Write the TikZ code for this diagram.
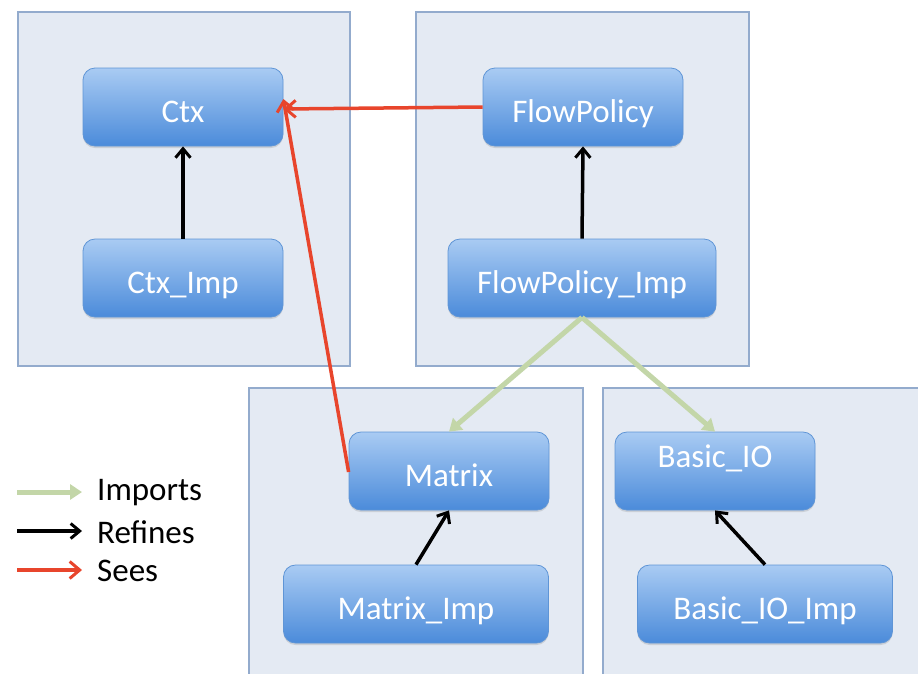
\documentclass[tikz,border=0pt]{standalone}
\usepackage{fontspec}
\setmainfont{Carlito}
\usetikzlibrary{arrows.meta,shadows}
\definecolor{pkgfill}{HTML}{E4EAF3}
\definecolor{pkgline}{HTML}{93ABCD}
\definecolor{modtop}{HTML}{A9CBF3}
\definecolor{modbot}{HTML}{4B8BDA}
\definecolor{modline}{HTML}{5F95D6}
\definecolor{seesred}{HTML}{E8452C}
\definecolor{importgreen}{HTML}{C3D6A8}
\tikzset{
  pkg/.style={fill=pkgfill, draw=pkgline, line width=1.3pt},
  module/.style={rounded corners=12pt, top color=modtop, bottom color=modbot,
    draw=modline, line width=0.8pt, text=white, font=\fontsize{33}{36}\selectfont,
    minimum height=78pt, inner sep=0pt, text height=37pt, text depth=6pt,
    drop shadow={shadow xshift=0pt, shadow yshift=-2pt, opacity=0.25}},
  refines/.style={-{Straight Barb[length=9pt,width=15pt,line width=3pt]}, line width=3.5pt, black},
  sees/.style={-{Straight Barb[length=10pt,width=17pt,line width=3pt]}, line width=3.5pt, seesred},
  imports/.style={-{Triangle[length=12pt,width=15pt]}, line width=5pt, importgreen},
  legendtext/.style={anchor=west, font=\fontsize{33}{36}\selectfont, inner sep=0pt}
}
\begin{document}
\begin{tikzpicture}[x=1pt,y=-1pt]
\useasboundingbox (0,0) rectangle (918,673);
\fill[white] (0,0) rectangle (918,673);
\begin{scope}
\clip (0,0) rectangle (918,673);
% package frames
\draw[pkg] (18,12) rectangle (350,366);
\draw[pkg] (416,12) rectangle (749,366);
\draw[pkg] (249,388) rectangle (583,690);
\draw[pkg] (603,388) rectangle (930,690);
\end{scope}

% modules
\node[module, minimum width=200pt] (ctx) at (183,107) {Ctx};
\node[module, minimum width=200pt] (ctximp) at (183,278) {Ctx\_Imp};
\node[module, minimum width=200pt] (fp) at (583,107) {FlowPolicy};
\node[module, minimum width=268pt] (fpimp) at (582,278) {FlowPolicy\_Imp};
\node[module, minimum width=200pt] (mat) at (449,471) {Matrix};
\node[module, minimum width=265pt] (matimp) at (416,604) {Matrix\_Imp};
\node[module, minimum width=200pt, text height=20pt, text depth=27pt] (bio) at (715,471) {Basic\_IO};
\node[module, minimum width=255pt] (bioimp) at (765,604) {Basic\_IO\_Imp};

% refinement
\draw[refines] (ctximp.north) -- (ctx.south);
\draw[refines] (fpimp.north) -- (fp.south);
\draw[refines] (matimp.north) -- (mat.south);
\draw[refines] (bioimp.north) -- (bio.south);

% sees
\draw[sees] (fp.west) -- ([yshift=-2pt]ctx.east);
\draw[sees] ([yshift=-1pt]mat.west) -- ([yshift=8pt]ctx.east);

% imports
\draw[imports] (fpimp.south) -- (mat.north);
\draw[imports] (fpimp.south) -- (bio.north);

% legend
\coordinate (li0) at (17,492); \coordinate (li1) at (82,492);
\coordinate (lr0) at (17,531); \coordinate (lr1) at (82,531);
\coordinate (ls0) at (17,570); \coordinate (ls1) at (82,570);
\draw[imports] (li0) -- (li1);
\draw[refines] (lr0) -- (lr1);
\draw[sees] (ls0) -- (ls1);
\node[legendtext] (limp) at (97,493) {Imports};
\node[legendtext] (lref) at (97,532) {Refines};
\node[legendtext] (lsee) at (97,571) {Sees};
\end{tikzpicture}
\end{document}
